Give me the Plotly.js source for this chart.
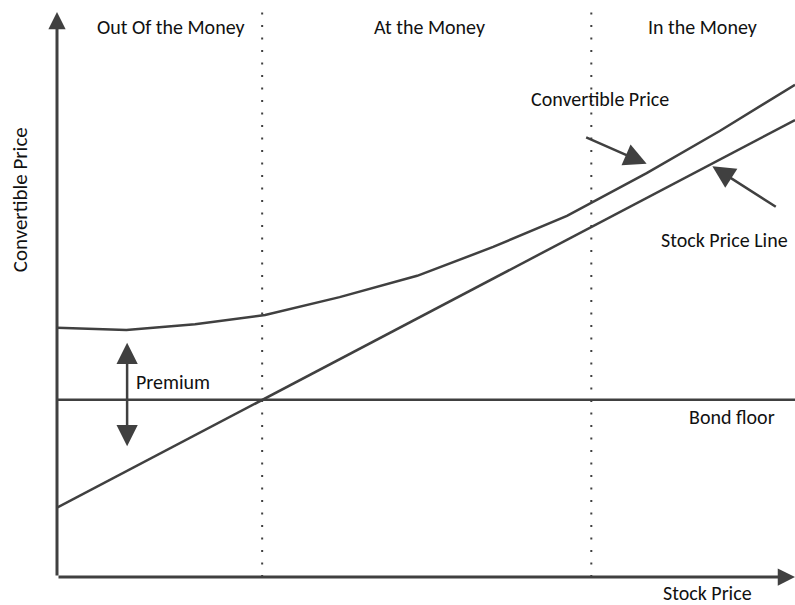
<!DOCTYPE html>
<html>
<head>
<meta charset="utf-8">
<script src="https://cdn.plot.ly/plotly-3.0.1.min.js"></script>
<style>html,body{margin:0;padding:0;background:#fff;}#chart{width:795px;height:605px;}</style>
</head>
<body>
<div id="chart"></div>
<script>
// Data (abstract units: stock price 0-100, value 0-100)
const convX = [0, 9.4, 18.7, 28.2, 38.3, 48.8, 59.1, 69.1, 79.9, 89.8, 100];
const convY = [43.2, 42.8, 43.8, 45.4, 48.5, 52.2, 57.2, 62.6, 70.0, 77.3, 85.3];
const stockX = [0, 100];
const stockY = [12.0, 79.2];
const bondFloor = 30.7;
const zoneBounds = [27.8, 72.4];
const zoneLabels = ["Out Of the Money", "At the Money", "In the Money"];
const zoneLabelX = [15.4, 50.5, 87.5];

const C = '#404040';
const FONT = 'Carlito, Calibri, Lato, "Open Sans", sans-serif';

const traces = [
  {x: convX, y: convY, mode: 'lines', line: {color: C, width: 2.5}, hoverinfo: 'skip', cliponaxis: false},
  {x: stockX, y: stockY, mode: 'lines', line: {color: C, width: 2.5}, hoverinfo: 'skip', cliponaxis: false},
  {x: [0, 100], y: [bondFloor, bondFloor], mode: 'lines', line: {color: C, width: 2.5}, hoverinfo: 'skip', cliponaxis: false}
];
zoneBounds.forEach(b => traces.push({
  x: [b, b], y: [0, 98.5], mode: 'lines', line: {color: C, width: 2, dash: '2px,10.5px'}, hoverinfo: 'skip', cliponaxis: false
}));

const txt = (text, x, y, extra) => Object.assign({
  text: text, x: x, y: y, xref: 'x', yref: 'y', showarrow: false,
  xanchor: 'center', yanchor: 'middle',
  font: {family: FONT, size: 20, color: '#111'}
}, extra || {});

const arr = (x, y, ax, ay, extra) => Object.assign({
  x: x, y: y, ax: ax, ay: ay, xref: 'x', yref: 'y', axref: 'x', ayref: 'y',
  text: '', showarrow: true, arrowhead: 2, arrowsize: 1.8, arrowwidth: 2.5, arrowcolor: C, standoff: 0
}, extra || {});

const annotations = [
  // axes with arrows
  arr(0, 97.9, 0, 0, {arrowwidth: 3, arrowsize: 1.15}),
  arr(100, 0, 0, 0, {arrowwidth: 3, arrowsize: 1.15}),
  // pointer arrows
  arr(79.9, 71.6, 71.5, 76.3),
  arr(88.8, 71.2, 97.6, 64.0),
  arr(9.5, 40.6, 9.5, 22.4, {arrowside: 'end+start', arrowsize: 1.7}),
  // labels
  txt('Convertible Price', 73.6, 82.8),
  txt('Stock Price Line', 90.5, 58.4),
  txt('Bond floor', 91.5, 27.7),
  txt('Premium', 10.4, 33.8, {xanchor: 'left'}),
  txt('Stock Price', 88.2, -0.027, {yref: 'paper'}),
  txt('Convertible Price', -0.05, 0.653, {xref: 'paper', yref: 'paper', textangle: -90, font: {family: FONT, size: 21, color: '#111'}})
];
zoneLabels.forEach((t, i) => annotations.push(txt(t, zoneLabelX[i], 95.3)));

const layout = {
  width: 795, height: 605,
  margin: {l: 57, r: 0, t: 0, b: 28},
  paper_bgcolor: '#fff', plot_bgcolor: '#fff',
  showlegend: false,
  xaxis: {range: [0, 100], showgrid: false, zeroline: false, showticklabels: false, ticks: '', showline: false, fixedrange: true},
  yaxis: {range: [0, 100], showgrid: false, zeroline: false, showticklabels: false, ticks: '', showline: false, fixedrange: true},
  annotations: annotations
};

Plotly.newPlot('chart', traces, layout, {staticPlot: true});
</script>
</body>
</html>
